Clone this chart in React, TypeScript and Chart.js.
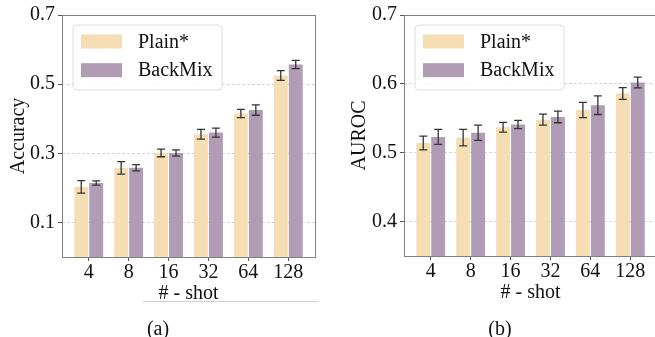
import React, { useEffect, useRef } from "react";
import { Chart, registerables } from "chart.js";

Chart.register(...registerables);

// ---- data ----
const categories = ["4", "8", "16", "32", "64", "128"];
const seriesLabels = ["Plain*", "BackMix"];
const seriesColors = ["#F5DEB3", "#B19CB5"];

const accPlain = [0.203, 0.258, 0.301, 0.355, 0.415, 0.525];
const accPlainErr = [0.018, 0.018, 0.011, 0.014, 0.012, 0.014];
const accBackMix = [0.214, 0.258, 0.301, 0.36, 0.425, 0.557];
const accBackMixErr = [0.006, 0.009, 0.009, 0.013, 0.015, 0.012];

const aucPlain = [0.514, 0.522, 0.537, 0.548, 0.562, 0.586];
const aucPlainErr = [0.01, 0.012, 0.007, 0.008, 0.011, 0.0085];
const aucBackMix = [0.523, 0.529, 0.541, 0.552, 0.569, 0.602];
const aucBackMixErr = [0.011, 0.011, 0.006, 0.0085, 0.0135, 0.0077];

const accTicks = [0.1, 0.3, 0.5, 0.7];
const aucTicks = [0.4, 0.5, 0.6, 0.7];

const FONT = '"Liberation Serif", "DejaVu Serif", serif';
const TEXT = "#111111";

const decorPlugin = {
  id: "decor",
  afterDatasetsDraw(chart: any) {
    const { ctx, chartArea: a, scales } = chart;
    const y = scales.y;
    chart.data.datasets.forEach((ds: any, i: number) => {
      const meta = chart.getDatasetMeta(i);
      meta.data.forEach((bar: any, j: number) => {
        const v = ds.data[j].y;
        const e = ds.errors[j];
        const x = bar.x;
        const yt = y.getPixelForValue(v + e);
        const yb = y.getPixelForValue(v - e);
        ctx.save();
        ctx.strokeStyle = "#333333";
        ctx.lineWidth = 1.3;
        ctx.beginPath();
        ctx.moveTo(x, yt);
        ctx.lineTo(x, yb);
        ctx.moveTo(x - 4, yt);
        ctx.lineTo(x + 4, yt);
        ctx.moveTo(x - 4, yb);
        ctx.lineTo(x + 4, yb);
        ctx.stroke();
        ctx.restore();
      });
    });
    ctx.save();
    ctx.strokeStyle = "#808080";
    ctx.lineWidth = 1;
    ctx.strokeRect(
      Math.round(a.left) + 0.5,
      Math.round(a.top) + 0.5,
      Math.round(a.right - a.left),
      Math.round(a.bottom - a.top)
    );
    ctx.restore();
  },
  afterDraw(chart: any, _args: any, opts: any) {
    const { ctx, chartArea: a } = chart;
    // legend
    const lx = a.left + 11;
    const ly = a.top + 10;
    const lw = 149;
    const lh = 65;
    ctx.save();
    ctx.beginPath();
    const r = 4;
    ctx.moveTo(lx + r, ly);
    ctx.lineTo(lx + lw - r, ly);
    ctx.quadraticCurveTo(lx + lw, ly, lx + lw, ly + r);
    ctx.lineTo(lx + lw, ly + lh - r);
    ctx.quadraticCurveTo(lx + lw, ly + lh, lx + lw - r, ly + lh);
    ctx.lineTo(lx + r, ly + lh);
    ctx.quadraticCurveTo(lx, ly + lh, lx, ly + lh - r);
    ctx.lineTo(lx, ly + r);
    ctx.quadraticCurveTo(lx, ly, lx + r, ly);
    ctx.closePath();
    ctx.fillStyle = "rgba(255,255,255,0.85)";
    ctx.fill();
    ctx.strokeStyle = "#dddddd";
    ctx.lineWidth = 1;
    ctx.stroke();
    chart.data.datasets.forEach((ds: any, i: number) => {
      const cy = ly + 16.5 + i * 28.7;
      ctx.fillStyle = ds.backgroundColor;
      ctx.fillRect(lx + 8, cy - 7, 41, 14);
      ctx.fillStyle = TEXT;
      ctx.font = `20px ${FONT}`;
      ctx.textBaseline = "middle";
      ctx.textAlign = "left";
      ctx.fillText(ds.label, lx + 65, cy + 1);
    });
    ctx.restore();
    // caption
    ctx.save();
    ctx.fillStyle = TEXT;
    ctx.font = `20px ${FONT}`;
    ctx.textAlign = "center";
    ctx.textBaseline = "middle";
    ctx.fillText(opts.caption, opts.captionX, opts.captionY);
    if (opts.sep) {
      ctx.strokeStyle = "#d0d0d0";
      ctx.lineWidth = 1;
      ctx.beginPath();
      ctx.moveTo(opts.sep[0], opts.sep[2]);
      ctx.lineTo(opts.sep[1], opts.sep[2]);
      ctx.stroke();
    }
    ctx.restore();
  },
};

function buildConfig(p: {
  plain: number[];
  plainErr: number[];
  back: number[];
  backErr: number[];
  yMin: number;
  yMax: number;
  yTicks: number[];
  yTitle: string;
  yAxisWidth: number;
  yTitlePad: number;
  xAxisHeight: number;
  padding: any;
  caption: string;
  captionX: number;
  captionY: number;
  sep?: number[];
}) {
  const mk = (vals: number[]) => vals.map((v, i) => ({ x: i, y: v }));
  return {
    type: "bar",
    data: {
      datasets: [
        {
          label: seriesLabels[0],
          data: mk(p.plain),
          errors: p.plainErr,
          backgroundColor: seriesColors[0],
          borderWidth: 0,
          categoryPercentage: 0.75,
          barPercentage: 0.93,
        },
        {
          label: seriesLabels[1],
          data: mk(p.back),
          errors: p.backErr,
          backgroundColor: seriesColors[1],
          borderWidth: 0,
          categoryPercentage: 0.75,
          barPercentage: 0.93,
        },
      ],
    },
    options: {
      responsive: false,
      animation: false,
      devicePixelRatio: 1,
      layout: { padding: p.padding },
      plugins: {
        legend: { display: false },
        tooltip: { enabled: false },
        decor: {
          caption: p.caption,
          captionX: p.captionX,
          captionY: p.captionY,
          sep: p.sep,
        },
      },
      scales: {
        x: {
          type: "linear",
          min: -0.67,
          max: 5.67,
          offset: false,
          afterBuildTicks: (s: any) => {
            s.ticks = categories.map((_, i) => ({ value: i }));
          },
          afterFit: (s: any) => {
            s.height = p.xAxisHeight;
          },
          grid: {
            display: true,
            offset: false,
            drawOnChartArea: false,
            drawTicks: true,
            tickLength: 4,
            tickColor: "#555555",
            tickWidth: 1,
          },
          border: { display: false },
          ticks: {
            color: TEXT,
            font: { family: FONT, size: 20 },
            padding: 0,
            maxRotation: 0,
            autoSkip: false,
            callback: (v: any) => categories[v],
          },
          title: {
            display: true,
            text: "# - shot",
            color: TEXT,
            font: { family: FONT, size: 20, lineHeight: 1.2 },
            padding: { top: 0, bottom: 0 },
          },
        },
        y: {
          type: "linear",
          min: p.yMin,
          max: p.yMax,
          afterBuildTicks: (s: any) => {
            s.ticks = p.yTicks.map((v) => ({ value: v }));
          },
          afterFit: (s: any) => {
            s.width = p.yAxisWidth;
          },
          grid: {
            color: "#cccccc",
            lineWidth: 0.8,
            drawTicks: true,
            tickLength: 4,
            tickColor: "#555555",
            tickWidth: 1,
            tickBorderDash: [],
          },
          border: { display: false, dash: [3, 2] },
          ticks: {
            color: TEXT,
            font: { family: FONT, size: 20 },
            padding: 3,
            callback: (v: any) => Number(v).toFixed(1),
          },
          title: {
            display: true,
            text: p.yTitle,
            color: TEXT,
            font: { family: FONT, size: 20, lineHeight: 1.2 },
            padding: { top: p.yTitlePad, bottom: 0 },
          },
        },
      },
    },
    plugins: [decorPlugin],
  } as any;
}

function BarPanel({ config, width, height }: { config: any; width: number; height: number }) {
  const ref = useRef<HTMLCanvasElement | null>(null);
  useEffect(() => {
    if (!ref.current) return;
    const chart = new Chart(ref.current, config);
    return () => chart.destroy();
  }, [config]);
  return (
    <canvas
      ref={ref}
      width={width}
      height={height}
      style={{ width: `${width}px`, height: `${height}px`, display: "block" }}
    />
  );
}

const leftConfig = buildConfig({
  plain: accPlain,
  plainErr: accPlainErr,
  back: accBackMix,
  backErr: accBackMixErr,
  yMin: 0,
  yMax: 0.7,
  yTicks: accTicks,
  yTitle: "Accuracy",
  yAxisWidth: 62,
  yTitlePad: 7,
  xAxisHeight: 49,
  padding: { left: 0, right: 15, top: 15, bottom: 31 },
  caption: "(a)",
  captionX: 158,
  captionY: 330,
  sep: [143, 318, 301.5],
});

const rightConfig = buildConfig({
  plain: aucPlain,
  plainErr: aucPlainErr,
  back: aucBackMix,
  backErr: aucBackMixErr,
  yMin: 0.35,
  yMax: 0.7,
  yTicks: aucTicks,
  yTitle: "AUROC",
  yAxisWidth: 74,
  yTitlePad: 18,
  xAxisHeight: 49,
  padding: { left: 0, right: 3, top: 14, bottom: 32 },
  caption: "(b)",
  captionX: 170,
  captionY: 330,
});

export default function App() {
  useEffect(() => {
    document.body.style.margin = "0";
  }, []);
  return (
    <div
      style={{
        position: "fixed",
        left: 0,
        top: 0,
        width: 655,
        height: 337,
        overflow: "hidden",
        background: "#ffffff",
      }}
    >
      <div style={{ position: "absolute", left: 0, top: 0 }}>
        <BarPanel config={leftConfig} width={330} height={337} />
      </div>
      <div style={{ position: "absolute", left: 330, top: 0 }}>
        <BarPanel config={rightConfig} width={330} height={337} />
      </div>
    </div>
  );
}
